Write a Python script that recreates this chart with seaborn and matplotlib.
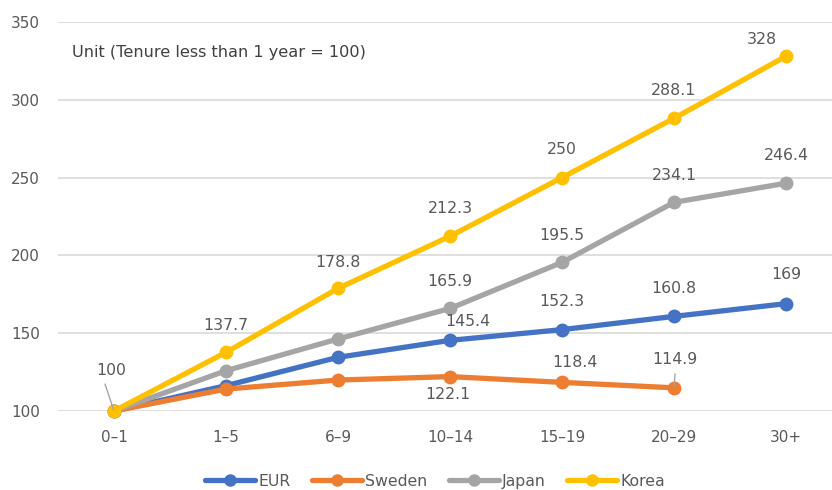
import matplotlib
matplotlib.use("Agg")
import matplotlib.pyplot as plt
import seaborn as sns
import pandas as pd

# Tenure bands (years) and relative wage index per country
tenure = ["0–1", "1–5", "6–9", "10–14", "15–19", "20–29", "30+"]
eur = [100, 116.3, 134.5, 145.4, 152.3, 160.8, 169]
sweden = [100, 114.1, 119.9, 122.1, 118.4, 114.9]
japan = [100, 125.9, 146.3, 165.9, 195.5, 234.1, 246.4]
korea = [100, 137.7, 178.8, 212.3, 250, 288.1, 328]

series_names = ["EUR", "Sweden", "Japan", "Korea"]
series_values = [eur, sweden, japan, korea]
colors = ["#4472C4", "#ED7D31", "#A5A5A5", "#FFC000"]

rows = []
for name, vals in zip(series_names, series_values):
    for t, v in zip(tenure, vals):
        rows.append({"tenure": t, "value": v, "country": name})
df = pd.DataFrame(rows)

sns.set_theme(style="white")
plt.rcParams["font.family"] = ["DejaVu Sans"]
text_color = "#595959"

fig = plt.figure(figsize=(8.32, 4.9), dpi=100)
ax = fig.add_axes([58 / 832, 1 - 411 / 490, 1 - 58 / 832, (411 - 22) / 490])

sns.lineplot(data=df, x="tenure", y="value", hue="country",
             hue_order=series_names, palette=colors, marker="o",
             markersize=10, markeredgewidth=0, linewidth=3.8,
             sort=False, ax=ax)

ax.set_xlim(-0.5, (832 - 114) / 112)
ax.set_ylim(100, 350)
ax.set_yticks([100, 150, 200, 250, 300, 350])
ax.grid(axis="y", color="#D9D9D9", linewidth=1.2)
ax.set_axisbelow(True)
for s in ax.spines.values():
    s.set_visible(False)
ax.set_xlabel("")
ax.set_ylabel("")
ax.tick_params(axis="both", length=0, labelsize=11, colors=text_color)
ax.tick_params(axis="y", pad=13)
ax.tick_params(axis="x", pad=14)
for line in ax.get_lines():
    line.set_clip_on(False)

# Data labels: (series index, category index, dx, dy) offsets in pixels
label_specs = [
    (3, 1, 0, 27), (3, 2, 0, 26), (3, 3, 0, 28), (3, 4, 0, 28),
    (3, 5, 0, 28), (3, 6, -24, 17),
    (2, 3, 0, 27), (2, 4, 0, 27), (2, 5, 0, 27), (2, 6, 0, 28),
    (0, 3, 18, 19), (0, 4, 0, 28), (0, 5, 0, 28), (0, 6, 0, 29),
    (1, 3, -2, -18), (1, 4, 13, 20),
]
for si, ci, dx, dy in label_specs:
    v = series_values[si][ci]
    ax.annotate(f"{v:g}", (ci, v), xytext=(dx, dy), textcoords="offset pixels",
                ha="center", va="center", fontsize=11.3, color=text_color)

# Labels with leader lines
ax.annotate("100", (0, 100), xytext=(-3, 41), textcoords="offset pixels",
            ha="center", va="center", fontsize=11.3, color=text_color)
ax.annotate("", (0, 100), xytext=(-9, 27), textcoords="offset pixels",
            arrowprops=dict(arrowstyle="-", color="#A5A5A5", lw=1,
                            shrinkA=0, shrinkB=1))
ax.annotate(f"{sweden[5]:g}", (5, sweden[5]), xytext=(1, 28),
            textcoords="offset pixels", ha="center", va="center",
            fontsize=11.3, color=text_color)
ax.annotate("", (5, sweden[5]), xytext=(1, 14), textcoords="offset pixels",
            arrowprops=dict(arrowstyle="-", color="#A5A5A5", lw=1,
                            shrinkA=0, shrinkB=2))

ax.text(72 / 832, 1 - 53 / 490, "Unit (Tenure less than 1 year = 100)",
        transform=fig.transFigure, ha="left", va="center",
        fontsize=11.6, color="#404040")

handles, labels = ax.get_legend_handles_labels()
ax.get_legend().remove()
for h in handles:
    h.set_markersize(9)
fig.legend(handles, labels, loc="center", bbox_to_anchor=(435 / 832, 1 - 481 / 490),
           ncol=4, frameon=False, fontsize=11.3, handlelength=3.2,
           handletextpad=0.2, columnspacing=1.35, labelcolor=text_color)

fig.savefig("out.png", dpi=100)
